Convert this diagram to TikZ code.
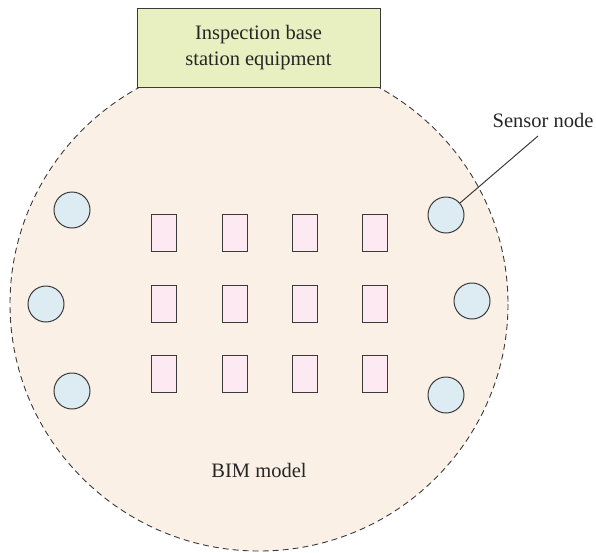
\documentclass[tikz,border=0pt]{standalone}
\usepackage{fontspec}
\setmainfont{Liberation Serif}
\usepackage{xcolor}
\usepackage{tikz}
\usetikzlibrary{calc}

\definecolor{bimfill}{HTML}{FBF0E6}
\definecolor{sensfill}{HTML}{DDEBF3}
\definecolor{roomfill}{HTML}{FCE9F1}
\definecolor{basefill}{HTML}{E8EFC0}
\definecolor{edge}{HTML}{3A3A3A}

\tikzset{
  sensor/.style={circle,draw=edge,fill=sensfill,line width=1pt,minimum size=36pt,inner sep=0pt},
  room/.style={rectangle,draw=edge,fill=roomfill,line width=1pt,minimum width=25pt,minimum height=37pt,inner sep=0pt},
  label/.style={font=\fontsize{20.5}{26}\selectfont,text=black!85}
}

\begin{document}
\begin{tikzpicture}[x=1pt,y=-1pt]
\useasboundingbox (0,0) rectangle (596,552);

% BIM model area
\draw[edge,fill=bimfill,line width=0.9pt,dash pattern=on 6pt off 4pt]
  (259,304) ellipse [x radius=249, y radius=247];
\node[label] (bim) at (259,470) {BIM model};

% Base station
\node[draw=edge,fill=basefill,line width=1pt,minimum width=243pt,minimum height=79pt,
  label,align=center,inner sep=0pt] (base) at (258.5,47.5) {Inspection base\\station equipment};

% Rooms
\foreach \c/\x in {1/163.5,2/234.5,3/304.5,4/374.5}
  \foreach \r/\y in {1/233,2/303.5,3/373.5}
    \node[room] (r\r\c) at (\x,\y) {};

% Sensor nodes
\node[sensor] (s1) at (72,210) {};
\node[sensor] (s2) at (446,215) {};
\node[sensor] (s3) at (46,304) {};
\node[sensor] (s4) at (472,301) {};
\node[sensor] (s5) at (72,391) {};
\node[sensor] (s6) at (446,395) {};

% Callout
\node[label,anchor=base] (sn) at (543,127) {Sensor node};
\coordinate (snfoot) at (538,136);
\draw[edge,line width=1pt] (snfoot) -- (s2);
\end{tikzpicture}
\end{document}
